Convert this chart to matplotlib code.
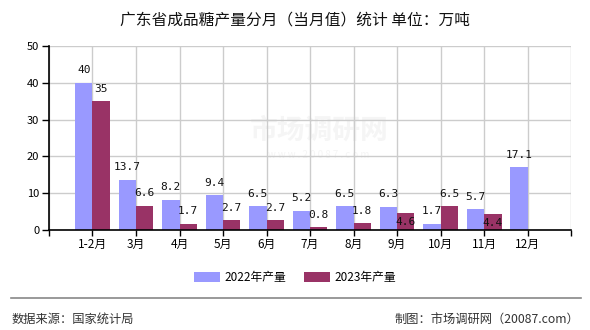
import numpy as np
import matplotlib.pyplot as plt

plt.rcParams['font.family'] = ['Noto Sans CJK SC', 'DejaVu Sans']

# 广东省成品糖产量 (万吨)
months = ['1-2月', '3月', '4月', '5月', '6月', '7月', '8月', '9月', '10月', '11月', '12月']
y2022 = [40, 13.7, 8.2, 9.4, 6.5, 5.2, 6.5, 6.3, 1.7, 5.7, 17.1]
y2023 = [35, 6.6, 1.7, 2.7, 2.7, 0.8, 1.8, 4.6, 6.5, 4.4, None]

c22 = '#9999ff'
c23 = '#993366'

fig = plt.figure(figsize=(5.9, 3.3), dpi=100)
ax = fig.add_axes([0.083, 0.303, 0.885, 0.558])

x = np.arange(len(months))
w = 0.4
v23 = [np.nan if v is None else v for v in y2023]
ax.bar(x - w / 2, y2022, w, color=c22, zorder=2, label='2022年产量')
ax.bar(x + w / 2, v23, w, color=c23, zorder=2, label='2023年产量')

# value labels; a couple of 2023 labels sit inside the bar to avoid overlap
num_font = dict(family='DejaVu Sans Mono', fontsize=8, color='#111111')
for xi, v in zip(x, y2022):
    ax.annotate(f'{v:g}', (xi - w / 2, v), xytext=(0, 9), textcoords='offset points',
                ha='center', va='center', zorder=4, **num_font)
for xi, v in zip(x, y2023):
    if v is None:
        continue
    dy = -6.5 if v in (4.6, 4.4) else 9
    ax.annotate(f'{v:g}', (xi + w / 2, v), xytext=(0, dy), textcoords='offset points',
                ha='center', va='center', zorder=4, **num_font)

ax.set_xlim(-1, 11)
ax.set_ylim(0, 50)
ax.set_yticks(np.arange(0, 51, 10))
ax.set_xticks(np.arange(-1, 12))
ax.set_xticklabels([''] + months + [''], fontsize=8.5)
ax.tick_params(axis='y', labelsize=8, length=5, width=1, pad=2)
ax.tick_params(axis='x', length=4, width=1, pad=2)
ax.grid(True, color='#cccccc', lw=1, zorder=0)
for s in ['top', 'right']:
    ax.spines[s].set_visible(False)
for s in ['left', 'bottom']:
    ax.spines[s].set_linewidth(1.2)
    ax.spines[s].set_zorder(3)

# faint watermark
ax.text(5.2, 27, '市场调研网', fontsize=20, color='#f5f5f5', ha='center', va='center',
        zorder=1, fontweight='bold')
ax.text(5.2, 20.5, 'w w w . 2 0 0 8 7 . c o m', fontsize=7, color='#f5f5f5',
        ha='center', va='center', zorder=1)

fig.text(0.5, 0.94, '广东省成品糖产量分月（当月值）统计 单位：万吨', ha='center', va='center',
         fontsize=11.3, color='#111111')

leg = fig.legend(loc='center', bbox_to_anchor=(0.5, 0.158), ncol=2, frameon=False,
                 fontsize=8.5, handlelength=2.2, handleheight=0.9, columnspacing=1.5,
                 handletextpad=0.4)

fig.add_artist(plt.Line2D([0.019, 0.984], [0.097, 0.097], color='#888888', lw=1.2))
fig.text(0.02, 0.033, '数据来源：国家统计局', ha='left', va='center', fontsize=8.8, color='#333333')
fig.text(0.982, 0.033, '制图：市场调研网（20087.com）', ha='right', va='center', fontsize=8.8,
         color='#333333')

fig.savefig('out.png', dpi=100)
